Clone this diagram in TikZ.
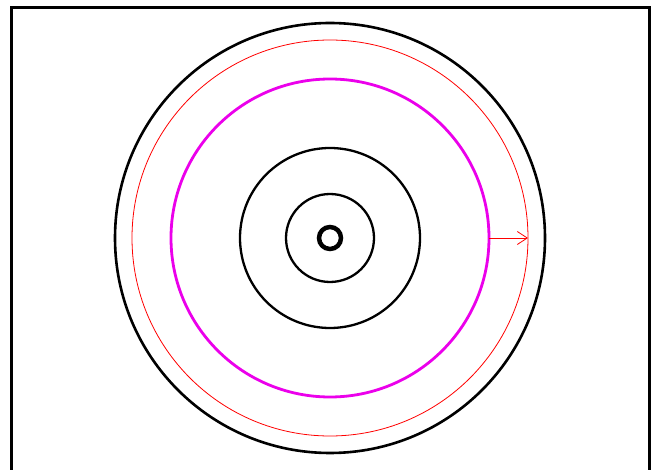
\documentclass[tikz,border=0pt]{standalone}
\usetikzlibrary{arrows.meta}
\definecolor{frontmag}{RGB}{235,0,235}

\begin{document}
\begin{tikzpicture}[
  x=1pt, y=-1pt,
  ring/.style={draw, circle, inner sep=0pt, outer sep=0pt},
  arrow/.style={-{Straight Barb[length=10pt, width=13pt]}, red, line width=0.8pt}
]
\useasboundingbox (0,0) rectangle (651,470);
% frame, open at the bottom
\draw[line width=3pt] (11,470) -- (11,8) -- (649,8) -- (649,470);
\coordinate (c) at (330,238);
% rings, outside in
\node[ring, line width=2.6pt, minimum size=430pt] (outer) at (c) {};
\node[ring, red, line width=0.8pt, minimum size=396pt] (limit) at (c) {};
\node[ring, frontmag, line width=2.8pt, minimum size=318pt] (front) at (c) {};
\node[ring, line width=2.3pt, minimum size=180pt] (mid) at (c) {};
\node[ring, line width=2.3pt, minimum size=88pt] (inner) at (c) {};
\node[ring, line width=4.5pt, minimum size=22pt] (core) at (c) {};
\draw[arrow] (front.east) -- (limit.east);
\end{tikzpicture}
\end{document}
